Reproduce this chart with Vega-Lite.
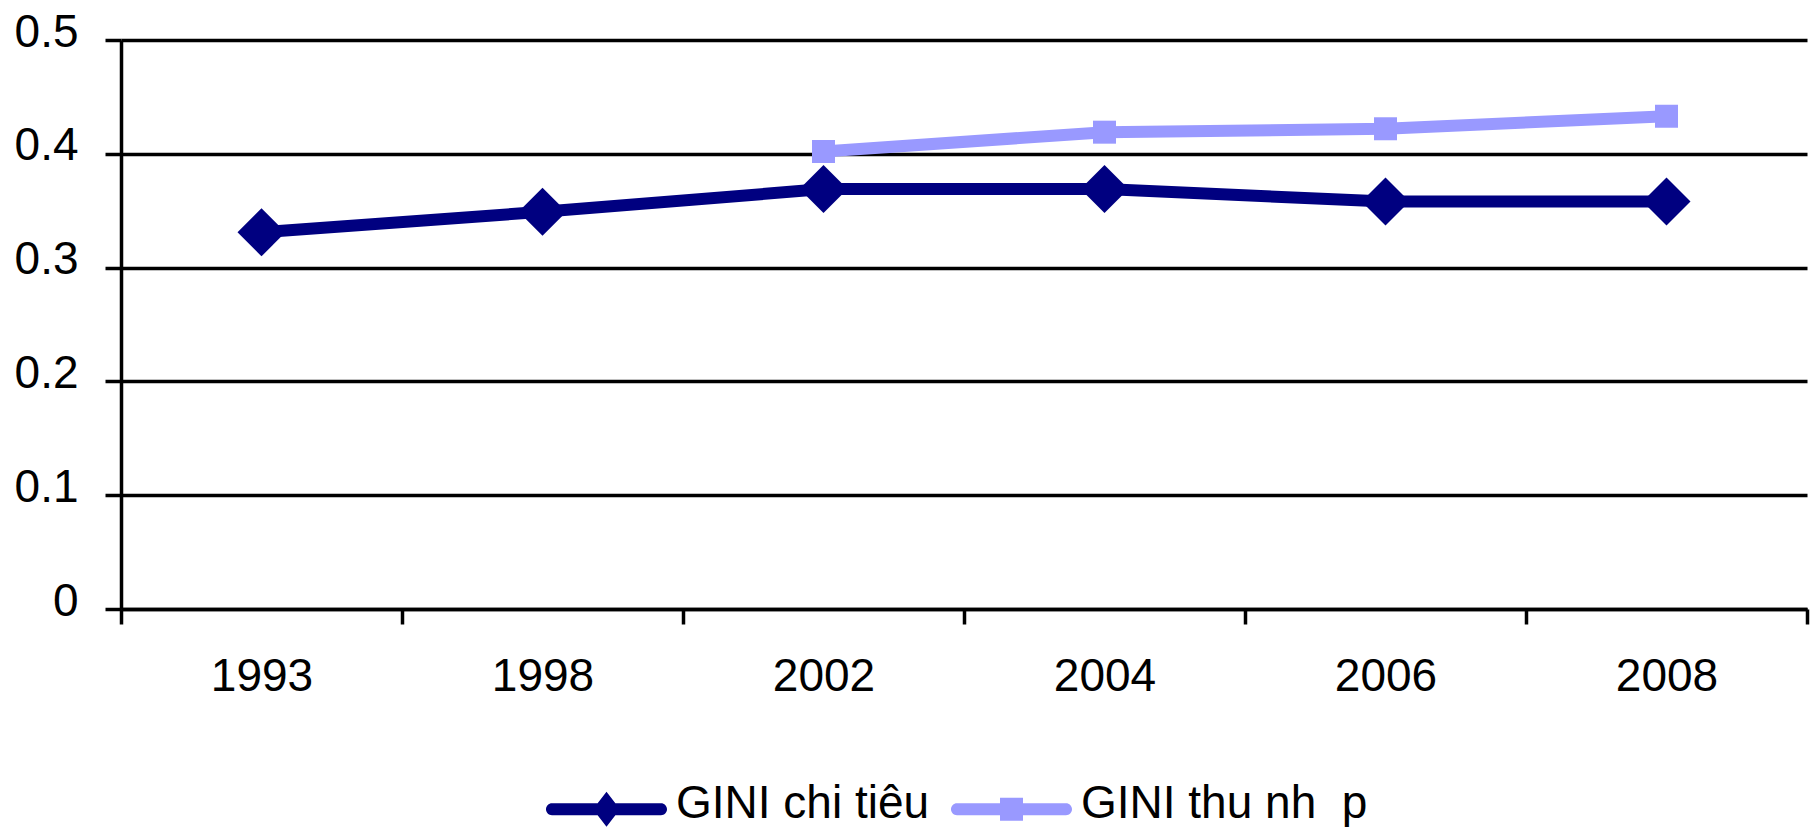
{
  "$schema": "https://vega.github.io/schema/vega-lite/v6.json",
  "width": 1686,
  "height": 569,
  "autosize": {"type": "none"},
  "padding": {"left": 121, "top": 40, "right": 7, "bottom": 218},
  "background": "white",
  "config": {"view": {"stroke": null}, "font": "Liberation Sans"},
  "data": {
    "values": [
      {"year": "1993", "s": "GINI chi tiêu", "v": 0.331},
      {"year": "1998", "s": "GINI chi tiêu", "v": 0.349},
      {"year": "2002", "s": "GINI chi tiêu", "v": 0.369},
      {"year": "2004", "s": "GINI chi tiêu", "v": 0.369},
      {"year": "2006", "s": "GINI chi tiêu", "v": 0.358},
      {"year": "2008", "s": "GINI chi tiêu", "v": 0.358},
      {"year": "2002", "s": "GINI thu nh\u00a0\u00a0p", "v": 0.402},
      {"year": "2004", "s": "GINI thu nh\u00a0\u00a0p", "v": 0.419},
      {"year": "2006", "s": "GINI thu nh\u00a0\u00a0p", "v": 0.422},
      {"year": "2008", "s": "GINI thu nh\u00a0\u00a0p", "v": 0.433}
    ]
  },
  "encoding": {
    "x": {
      "field": "year",
      "type": "ordinal",
      "scale": {"type": "band", "paddingInner": 0, "paddingOuter": 0},
      "axis": {
        "title": null,
        "grid": false,
        "domainColor": "black",
        "domainWidth": 3.5,
        "tickColor": "black",
        "tickWidth": 3.5,
        "tickSize": 15,
        "tickBand": "extent",
        "labelAngle": 0,
        "labelFont": "Liberation Sans",
        "labelFontSize": 46,
        "labelColor": "black",
        "labelPadding": 30
      }
    },
    "y": {
      "field": "v",
      "type": "quantitative",
      "scale": {"domain": [0, 0.5], "nice": false},
      "axis": {
        "title": null,
        "values": [0, 0.1, 0.2, 0.3, 0.4, 0.5],
        "format": "~g",
        "domainColor": "black",
        "domainWidth": 3.5,
        "tickColor": "black",
        "tickWidth": 3.5,
        "tickSize": 16,
        "grid": true,
        "gridColor": "black",
        "gridWidth": 3.5,
        "gridOpacity": 1,
        "labelFont": "Liberation Sans",
        "labelFontSize": 46,
        "labelColor": "black",
        "labelPadding": 27,
        "labelOffset": -8
      }
    }
  },
  "layer": [
    {
      "mark": {"type": "line", "strokeWidth": 12},
      "encoding": {
        "color": {
          "field": "s",
          "type": "nominal",
          "scale": {"domain": ["GINI chi tiêu", "GINI thu nh\u00a0\u00a0p"], "range": ["#000080", "#9999FF"]},
          "legend": {
            "title": null,
            "orient": "none",
            "legendX": 425,
            "legendY": 708.5,
            "direction": "horizontal",
            "symbolSize": 14641,
            "symbolStrokeWidth": 0,
            "labelFont": "Liberation Sans",
            "labelFontSize": 46,
            "labelColor": "black",
            "labelOffset": 9,
            "columnPadding": 21,
            "labelLimit": 500,
            "padding": 0,
            "encode": {
              "symbols": {
                "update": {
                  "shape": {"signal": "datum.index === 0 ? 'M-0.901,-0.099L0.901,-0.099A0.099,0.099 0 0 1 0.901,0.099L-0.901,0.099A0.099,0.099 0 0 1 -0.901,-0.099ZM-0.223,0L0,-0.289L0.223,0L0,0.289Z' : 'M-0.901,-0.099L0.901,-0.099A0.099,0.099 0 0 1 0.901,0.099L-0.901,0.099A0.099,0.099 0 0 1 -0.901,-0.099ZM-0.19,-0.19L0.19,-0.19L0.19,0.19L-0.19,0.19Z'"},
                  "fill": {"signal": "datum.index === 0 ? '#000080' : '#9999FF'"},
                  "stroke": {"value": "transparent"},
                  "strokeWidth": {"value": 0},
                  "size": {"value": 14641},
                  "opacity": {"value": 1}
                }
              },
              "labels": {
                "update": {
                  "dy": {"value": -5}
                }
              }
            }
          }
        }
      }
    },
    {
      "transform": [{"filter": "datum.s == 'GINI chi tiêu'"}],
      "mark": {"type": "point", "shape": "diamond", "filled": true, "size": 2304, "opacity": 1, "strokeWidth": 0, "color": "#000080"}
    },
    {
      "transform": [{"filter": "datum.s != 'GINI chi tiêu'"}],
      "mark": {"type": "point", "shape": "square", "filled": true, "size": 529, "opacity": 1, "strokeWidth": 0, "color": "#9999FF"}
    }
  ]
}
